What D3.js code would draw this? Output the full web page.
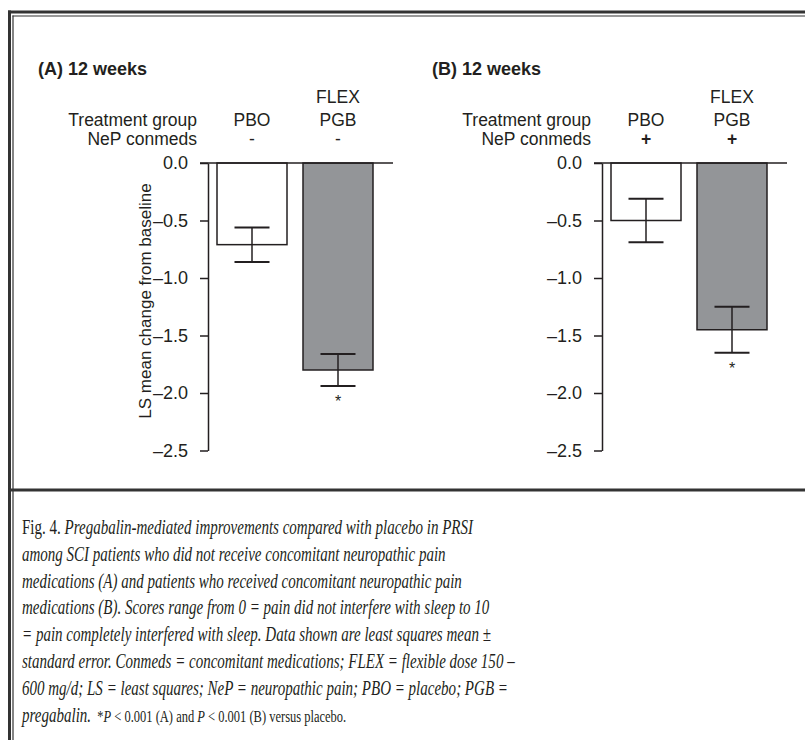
<!DOCTYPE html>
<html>
<head>
<meta charset="utf-8">
<script src="https://cdn.jsdelivr.net/npm/d3@7"></script>
<style>
  body { margin: 0; background: #fff; }
  svg { display: block; }
</style>
</head>
<body>
<div id="chart"></div>
<script>
const width = 805;
const height = 740;

// data
const panelTitles = ["(A) 12 weeks", "(B) 12 weeks"];
const groups = ["PBO", "FLEX PGB"];
const conmeds = ["-", "+"];
const means = [[-0.71, -1.80], [-0.50, -1.45]];
const errors = [[0.15, 0.14], [0.19, 0.20]];
const significant = [false, true];
const yTicks = [0, -0.5, -1.0, -1.5, -2.0, -2.5];

const captionLines = [
    [["Fig. 4. ", "n"], ["Pregabalin-mediated improvements compared with placebo in PRSI", "i"]],
    [["among SCI patients who did not receive concomitant neuropathic pain", "i"]],
    [["medications (A) and patients who received concomitant neuropathic pain", "i"]],
    [["medications (B). Scores range from 0 = pain did not interfere with sleep to 10", "i"]],
    [["= pain completely interfered with sleep. Data shown are least squares mean \u00b1", "i"]],
    [["standard error. Conmeds = concomitant medications; FLEX = flexible dose 150 \u2013", "i"]],
    [["600 mg/d; LS = least squares; NeP = neuropathic pain; PBO = placebo; PGB =", "i"]],
    [["pregabalin.", "i"], ["\u00a0\u00a0*", "s"], ["P", "si"], [" < 0.001 (A) and ", "s"], ["P", "si"], [" < 0.001 (B) versus placebo.", "s"]]
];

const ink = "#231f20";
const sans = "'Liberation Sans', Arial, sans-serif";
const serif = "'Liberation Serif', 'Times New Roman', serif";

const svg = d3.select("#chart").append("svg")
    .attr("width", width)
    .attr("height", height);

// frame
const frame = svg.append("g").attr("stroke", "#333");
frame.append("line").attr("x1", 9.5).attr("x2", 9.5).attr("y1", 10.5).attr("y2", height).attr("stroke-width", 3);
frame.append("line").attr("x1", 8).attr("x2", width).attr("y1", 12).attr("y2", 12).attr("stroke-width", 3);
frame.append("line").attr("x1", 13).attr("x2", 13).attr("y1", 15.5).attr("y2", height).attr("stroke-width", 1.2);
frame.append("line").attr("x1", 12.5).attr("x2", width).attr("y1", 16).attr("y2", 16).attr("stroke-width", 1.2);
frame.append("line").attr("x1", 8).attr("x2", width).attr("y1", 490).attr("y2", 490).attr("stroke-width", 3);

const y = d3.scaleLinear().domain([0, -2.5]).range([163, 450.5]);
const axisXs = [208, 602];

panelTitles.forEach((title, p) => {
    const ax = axisXs[p];
    const g = svg.append("g");

    const x = d3.scaleBand()
        .domain(groups)
        .range([ax + 9, ax + 165])
        .paddingInner(16 / 86);

    g.append("text")
        .attr("x", ax - 170).attr("y", 75)
        .attr("font-family", sans).attr("font-size", 18).attr("font-weight", "bold")
        .attr("fill", ink)
        .text(title);

    // row labels
    g.append("text")
        .attr("x", ax - 11).attr("y", 126)
        .attr("text-anchor", "end")
        .attr("font-family", sans).attr("font-size", 17.5).attr("fill", ink)
        .text("Treatment group");
    g.append("text")
        .attr("x", ax - 11).attr("y", 145)
        .attr("text-anchor", "end")
        .attr("font-family", sans).attr("font-size", 17.5).attr("fill", ink)
        .text("NeP conmeds");

    groups.forEach(grp => {
        const cx = x(grp) + x.bandwidth() / 2;
        const words = grp.split(" ");
        words.forEach((w, i) => {
            g.append("text")
                .attr("x", cx).attr("y", 126 - (words.length - 1 - i) * 23)
                .attr("text-anchor", "middle")
                .attr("font-family", sans).attr("font-size", 17.5).attr("fill", ink)
                .text(w);
        });
        g.append("text")
            .attr("x", cx).attr("y", 145)
            .attr("text-anchor", "middle")
            .attr("font-family", sans).attr("font-size", 17.5)
            .attr("font-weight", conmeds[p] === "+" ? "bold" : "normal")
            .attr("fill", ink)
            .text(conmeds[p]);
    });

    // y axis
    const axis = g.append("g")
        .attr("transform", `translate(${ax},0)`)
        .call(d3.axisLeft(y)
            .tickValues(yTicks)
            .tickSize(8)
            .tickSizeOuter(0)
            .tickPadding(12)
            .tickFormat(d => d3.format(".1f")(d).replace("\u2212", "\u2013")));
    axis.selectAll("path, line").attr("stroke", ink).attr("stroke-width", 1.5);
    axis.selectAll("text")
        .attr("font-family", sans).attr("font-size", 18).attr("fill", ink);

    if (p === 0) {
        g.append("text")
            .attr("transform", `translate(${ax - 57},${(y(-0.2) + y(-2.2)) / 2}) rotate(-90)`)
            .attr("text-anchor", "middle")
            .attr("font-family", sans).attr("font-size", 17).attr("fill", ink)
            .text("LS mean change from baseline");
    }

    // bars
    groups.forEach((grp, i) => {
        const v = means[p][i];
        const bx = x(grp);
        const cx = bx + x.bandwidth() / 2;
        g.append("rect")
            .attr("x", bx).attr("y", y(0))
            .attr("width", x.bandwidth())
            .attr("height", y(v) - y(0))
            .attr("fill", i === 0 ? "#fff" : "#939598")
            .attr("stroke", ink).attr("stroke-width", 1.5);

        const lo = v - errors[p][i];
        const hi = v + errors[p][i];
        const cap = x.bandwidth() / 4;
        g.append("line")
            .attr("x1", cx).attr("x2", cx).attr("y1", y(hi)).attr("y2", y(lo))
            .attr("stroke", ink).attr("stroke-width", 1.5);
        [hi, lo].forEach(e => {
            g.append("line")
                .attr("x1", cx - cap).attr("x2", cx + cap)
                .attr("y1", y(e)).attr("y2", y(e))
                .attr("stroke", ink).attr("stroke-width", 2);
        });
        if (significant[i]) {
            g.append("text")
                .attr("x", cx).attr("y", y(lo) + 21)
                .attr("text-anchor", "middle")
                .attr("font-family", sans).attr("font-size", 16).attr("fill", ink)
                .text("*");
        }
    });

    // zero line
    g.append("line")
        .attr("x1", ax - 8).attr("x2", ax + 185)
        .attr("y1", y(0)).attr("y2", y(0))
        .attr("stroke", ink).attr("stroke-width", 1.5);
});

// caption
const cap = svg.append("g").attr("fill", ink).attr("font-family", serif);
const lineNodes = captionLines.map((parts, li) => {
    const t = cap.append("text")
        .attr("x", 0).attr("y", 0)
        .attr("font-size", 21);
    parts.forEach(([str, style]) => {
        t.append("tspan")
            .attr("font-style", style === "i" || style === "si" ? "italic" : "normal")
            .attr("font-size", style === "s" || style === "si" ? 17.5 : 21)
            .text(str);
    });
    return t;
});
// the printed caption face is condensed: squeeze every line by the same factor
const squeeze = 451 / lineNodes[0].node().getComputedTextLength();
lineNodes.forEach((t, li) => {
    t.attr("transform", `translate(22,${534 + li * 26.8}) scale(${squeeze},1)`);
});
</script>
</body>
</html>
